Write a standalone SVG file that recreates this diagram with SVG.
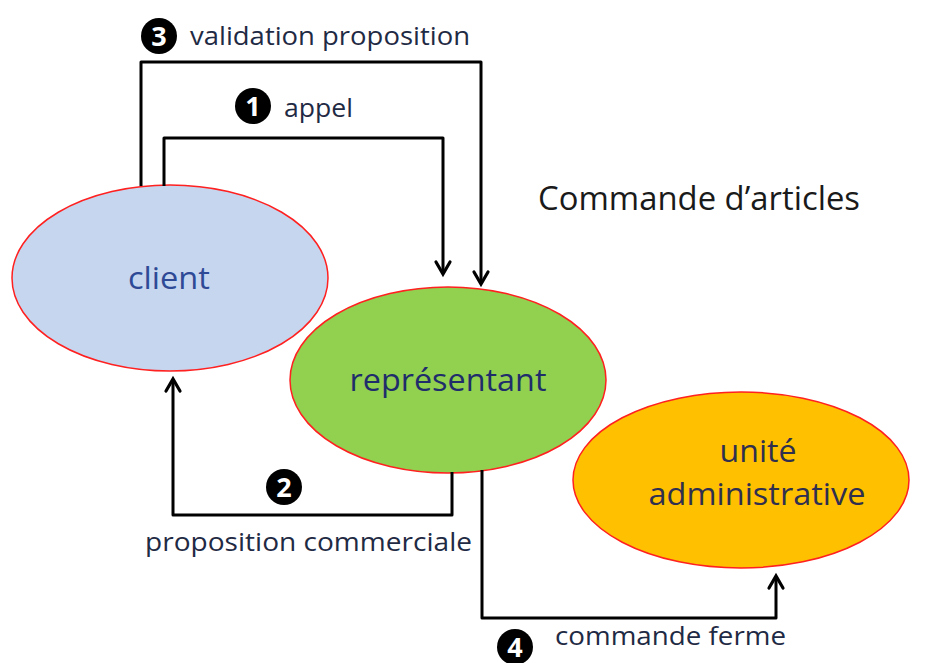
<svg xmlns="http://www.w3.org/2000/svg" width="931" height="663" viewBox="0 0 931 663">
<defs>
<style>
.node{stroke:#ff2020;stroke-width:1.5}
.lbl{font-family:"Open Sans","Liberation Sans",sans-serif}
.conn{fill:none;stroke:#000;stroke-width:3;stroke-linejoin:round}
.head{fill:none;stroke:#000;stroke-width:3.2;stroke-linecap:round;stroke-linejoin:miter}
.num{fill:#000}
.digit{font-family:"Open Sans","Liberation Sans",sans-serif;font-weight:bold;font-size:27px;fill:#fff;text-anchor:middle}
.small{font-size:26px;fill:#1f2a44}
</style>
</defs>
<rect width="931" height="663" fill="#fff"/>
<g id="client">
<ellipse class="node" cx="170" cy="278" rx="158" ry="93" fill="#c6d6ef"/>
<text class="lbl" x="169" y="289" font-size="31" fill="#2e4a96" text-anchor="middle" textLength="82" lengthAdjust="spacingAndGlyphs">client</text>
</g>
<g id="representant">
<ellipse class="node" cx="448" cy="380" rx="158" ry="93" fill="#92d050"/>
<text class="lbl" x="448" y="391" font-size="31" fill="#1f2d6b" text-anchor="middle" textLength="197" lengthAdjust="spacingAndGlyphs">représentant</text>
</g>
<g id="unite">
<ellipse class="node" cx="741" cy="480" rx="168" ry="88" fill="#ffc000"/>
<text class="lbl" x="758" y="462" font-size="31" fill="#2f2f4f" text-anchor="middle" textLength="77" lengthAdjust="spacingAndGlyphs">unité</text>
<text class="lbl" x="757" y="505" font-size="31" fill="#2f2f4f" text-anchor="middle" textLength="217" lengthAdjust="spacingAndGlyphs">administrative</text>
</g>
<g id="title">
<text class="lbl" x="538" y="210" font-size="32" fill="#1a1a1a" textLength="322" lengthAdjust="spacingAndGlyphs">Commande d’articles</text>
</g>
<g id="connectors">
<path class="conn" d="M141,186 V62 H481 V283"/>
<path class="head" d="M474,272 L481,284 L488,272"/>
<path class="conn" d="M164,186 V138 H443 V273"/>
<path class="head" d="M436,262 L443,274 L450,262"/>
<path class="conn" d="M452,472 V515 H173 V380"/>
<path class="head" d="M166,391 L173,379 L180,391"/>
<path class="conn" d="M482,470 V618 H776 V577"/>
<path class="head" d="M769,588 L776,576 L783,588"/>
</g>
<g id="labels">
<circle class="num" cx="159" cy="36" r="18"/>
<text class="digit" x="159" y="45.5">3</text>
<text class="lbl small" x="190" y="45" textLength="280" lengthAdjust="spacingAndGlyphs">validation proposition</text>
<circle class="num" cx="253" cy="106" r="18"/>
<text class="digit" x="253" y="115.5">1</text>
<text class="lbl small" x="284" y="117" textLength="69" lengthAdjust="spacingAndGlyphs">appel</text>
<circle class="num" cx="284" cy="487" r="18"/>
<text class="digit" x="284" y="496.5">2</text>
<text class="lbl small" x="145" y="551" textLength="327" lengthAdjust="spacingAndGlyphs">proposition commerciale</text>
<circle class="num" cx="515" cy="647" r="18"/>
<text class="digit" x="515" y="656.5">4</text>
<text class="lbl small" x="555" y="645" textLength="231" lengthAdjust="spacingAndGlyphs">commande ferme</text>
</g>
</svg>
